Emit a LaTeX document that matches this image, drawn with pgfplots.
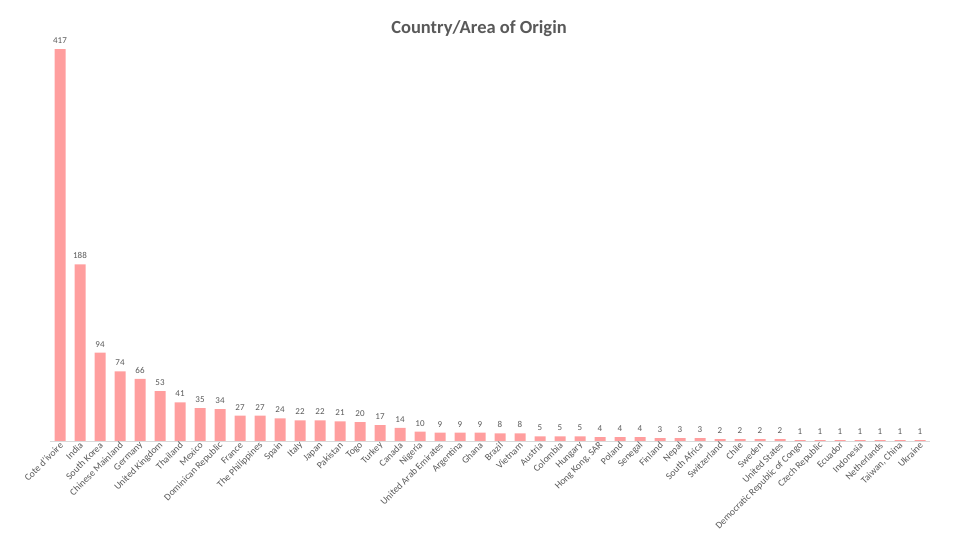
\documentclass[border=0pt]{standalone}
\usepackage{fontspec}
\setmainfont{Carlito}
\usepackage{pgfplots}
\pgfplotsset{compat=1.18}
\definecolor{barc}{RGB}{255,158,158}
\definecolor{txt}{RGB}{89,89,89}
\definecolor{axc}{RGB}{217,217,217}
\begin{document}
\begin{tikzpicture}[x=1pt,y=1pt]
\path[use as bounding box] (0pt,0pt) rectangle (960pt,540pt);
\node[font=\bfseries\fontsize{18.5}{22}\selectfont, text=txt] at (479pt,511pt) {Country/Area of Origin};
\begin{axis}[
  at={(50pt,99pt)}, anchor=south west,
  scale only axis, width=880pt, height=432.4pt,
  xmin=-0.5, xmax=43.5, ymin=0, ymax=460,
  axis x line*=bottom, axis y line=none,
  x axis line style={draw=axc, line width=0.8pt},
  xtick={0,...,43}, major tick length=0pt,
  xticklabels={Cote d'ivoire,India,South Korea,Chinese Mainland,Germany,United Kingdom,Thailand,Mexico,Dominican Republic,France,The Philippines,Spain,Italy,Japan,Pakistan,Togo,Turkey,Canada,Nigeria,United Arab Emirates,Argentina,Ghana,Brazil,Vietnam,Austria,Colombia,Hungary,{Hong Kong, SAR},Poland,Senegal,Finland,Nepal,South Africa,Switzerland,Chile,Sweden,United States,Democratic Republic of Congo,Czech Republic,Ecuador,Indonesia,Netherlands,{Taiwan, China},Ukraine},
  xticklabel style={rotate=45, anchor=east, font=\fontsize{9.7}{11}\selectfont, text=txt, inner sep=1pt, yshift=-3pt},
  /pgf/number format/assume math mode=true,
  nodes near coords,
  nodes near coords style={font=\fontsize{9}{10}\selectfont, text=txt, yshift=2pt},
  ytick=\empty,
]
\addplot[ybar, bar width=11pt, fill=barc, draw=none] coordinates {
(0,417) (1,188) (2,94) (3,74) (4,66) (5,53) (6,41) (7,35) (8,34) (9,27)
(10,27) (11,24) (12,22) (13,22) (14,21) (15,20) (16,17) (17,14) (18,10) (19,9)
(20,9) (21,9) (22,8) (23,8) (24,5) (25,5) (26,5) (27,4) (28,4) (29,4)
(30,3) (31,3) (32,3) (33,2) (34,2) (35,2) (36,2) (37,1) (38,1) (39,1)
(40,1) (41,1) (42,1) (43,1)};
\end{axis}
\end{tikzpicture}
\end{document}
